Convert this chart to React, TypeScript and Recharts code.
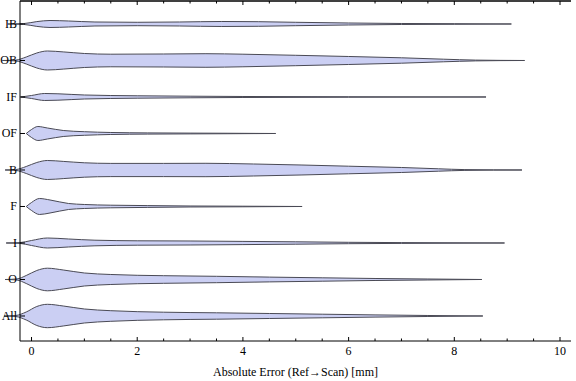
import { ComposedChart, Area, XAxis, YAxis, ReferenceLine } from 'recharts'

// categories, bottom to top (y position = index + 1)
const categories = ['All', 'O', 'I', 'F', 'B', 'OF', 'IF', 'OB', 'IB']

const xTicks = [0, 0.5, 1, 1.5, 2, 2.5, 3, 3.5, 4, 4.5, 5, 5.5, 6, 6.5, 7, 7.5, 8, 8.5, 9, 9.5, 10]
const yTicks = [1, 2, 3, 4, 5, 6, 7, 8, 9]

// estimated kernel densities (relative) along the error axis, per group
const ibX = [-0.45, -0.15, 0.1, 0.35, 0.7, 1.2, 2.0, 2.8, 3.6, 4.3, 5.0, 6.0, 7.0, 8.0, 9.08]
const ibD = [0, 0.4, 2.4, 3.5, 3.0, 2.0, 1.7, 2.0, 2.5, 2.3, 1.7, 1.0, 0.5, 0.3, 0]

const obX = [-0.55, -0.3, -0.1, 0.1, 0.3, 0.6, 1.0, 1.5, 2.5, 3.3, 4.0, 5.0, 6.0, 7.0, 7.8, 8.4, 9.33]
const obD = [0, 0.4, 3.5, 7.5, 9.5, 8.6, 7.0, 6.3, 6.5, 6.8, 6.3, 5.2, 4.0, 2.7, 1.3, 0.4, 0]

const ifX = [-0.2, 0.0, 0.25, 0.5, 1.0, 2.0, 3.0, 4.0, 6.0, 8.6]
const ifD = [0, 1.5, 3.5, 3.2, 2.0, 1.2, 0.8, 0.5, 0.25, 0]

const ofX = [-0.1, 0.0, 0.12, 0.3, 0.6, 1.0, 1.5, 2.2, 3.0, 3.7, 4.62]
const ofD = [0, 4.0, 7.0, 5.5, 3.0, 1.8, 1.0, 0.6, 0.4, 0.25, 0]

const bX = [-0.5, -0.3, -0.1, 0.1, 0.3, 0.6, 1.0, 1.5, 2.5, 3.3, 4.2, 5.1, 6.0, 7.0, 7.7, 8.2, 9.28]
const bD = [0, 0.4, 3.5, 7.5, 9.5, 8.6, 7.2, 6.6, 6.6, 6.7, 6.0, 5.0, 3.8, 2.5, 1.2, 0.4, 0]

const fX = [-0.1, 0.0, 0.15, 0.35, 0.7, 1.0, 1.5, 2.2, 3.0, 4.0, 5.12]
const fD = [0, 4.0, 8.0, 6.5, 3.0, 2.0, 1.3, 0.9, 0.5, 0.3, 0]

const iX = [-0.48, -0.22, 0.0, 0.3, 0.7, 1.2, 2.0, 3.0, 4.0, 5.0, 6.0, 7.0, 8.95]
const iD = [0, 0.4, 2.5, 5.0, 4.0, 2.8, 2.2, 2.0, 1.6, 1.2, 0.7, 0.4, 0]

const oX = [-0.5, -0.28, -0.1, 0.1, 0.3, 0.6, 1.0, 1.5, 2.5, 3.5, 4.5, 5.5, 6.5, 7.5, 8.52]
const oD = [0, 0.5, 4.0, 9.0, 11.3, 9.5, 6.5, 5.0, 3.8, 3.2, 2.4, 1.7, 1.0, 0.5, 0]

const allX = [-0.52, -0.3, -0.1, 0.1, 0.3, 0.6, 1.0, 1.5, 2.5, 3.5, 4.5, 5.5, 6.5, 7.5, 8.54]
const allD = [0, 0.5, 4.0, 9.5, 11.7, 10.0, 7.0, 5.3, 3.8, 3.2, 2.5, 1.8, 1.1, 0.5, 0]

const groups = [
  { name: 'All', xs: allX, dens: allD },
  { name: 'O', xs: oX, dens: oD },
  { name: 'I', xs: iX, dens: iD },
  { name: 'F', xs: fX, dens: fD },
  { name: 'B', xs: bX, dens: bD },
  { name: 'OF', xs: ofX, dens: ofD },
  { name: 'IF', xs: ifX, dens: ifD },
  { name: 'OB', xs: obX, dens: obD },
  { name: 'IB', xs: ibX, dens: ibD },
]

// half-width of a violin per density unit, in category units
const WIDTH = 1 / 36.5

const FONT = '"Liberation Serif", "Times New Roman", serif'
const X_DOMAIN = [-0.218, 10.208]
const Y_DOMAIN = [0.315, 9.63]

const violinData = groups.map((g) => {
  const pos = categories.indexOf(g.name) + 1
  return g.xs.map((x, i) => ({ x, band: [pos - g.dens[i] * WIDTH, pos + g.dens[i] * WIDTH] }))
})

const LeftTick = ({ x, y, payload }: any) => (
  <g>
    <line x1={x} x2={x + 5} y1={y} y2={y} stroke="#000" />
    <text x={x - 3} y={y} dy={4} textAnchor="end" fontSize={12} fontFamily={FONT} fill="#000">
      {categories[payload.value - 1]}
    </text>
  </g>
)

const RightTick = ({ x, y }: any) => <line x1={x} x2={x - 5} y1={y} y2={y} stroke="#000" />

const BottomTick = ({ x, y, payload }: any) => {
  const major = payload.value % 2 === 0
  return (
    <g>
      <line x1={x} x2={x} y1={y} y2={y - (major ? 4 : 2.5)} stroke="#000" />
      {major && (
        <text x={x} y={y + 14} textAnchor="middle" fontSize={12} fontFamily={FONT} fill="#000">
          {payload.value}
        </text>
      )}
    </g>
  )
}

// mirrored top axis: tick text position sits tickSize (4) below the frame edge
const TopTick = ({ x, y, payload }: any) => {
  const major = payload.value % 2 === 0
  const edge = y - 4
  return <line x1={x} x2={x} y1={edge} y2={edge + (major ? 4 : 2.5)} stroke="#000" />
}

export default function App() {
  return (
    <div style={{ position: 'absolute', left: 0, top: 0, background: '#fff' }}>
      <style>{'.recharts-area .recharts-layer{clip-path:none !important}'}</style>
      <ComposedChart width={576} height={381} margin={{ top: 1, right: 5, bottom: 0, left: 0 }}>
        <XAxis
          type="number"
          dataKey="x"
          domain={X_DOMAIN}
          allowDataOverflow
          ticks={xTicks}
          interval={0}
          tickSize={0}
          tickMargin={0}
          tickLine={false}
          tick={<BottomTick />}
          axisLine={{ stroke: '#000' }}
          height={40}
          label={{ value: 'Absolute Error (Ref→Scan) [mm]', position: 'insideBottom', offset: 5, fontSize: 12, fontFamily: FONT, fill: '#000' }}
        />
        <XAxis
          xAxisId="top"
          orientation="top"
          mirror
          type="number"
          dataKey="x"
          domain={X_DOMAIN}
          allowDataOverflow
          ticks={xTicks}
          interval={0}
          tickSize={4}
          tickMargin={0}
          tickLine={false}
          tick={<TopTick />}
          axisLine={{ stroke: '#000' }}
        />
        <YAxis
          type="number"
          domain={Y_DOMAIN}
          allowDataOverflow
          ticks={yTicks}
          interval={0}
          tickSize={0}
          tickMargin={0}
          tickLine={false}
          tick={<LeftTick />}
          axisLine={{ stroke: '#000' }}
          width={20}
        />
        <YAxis
          yAxisId="right"
          orientation="right"
          type="number"
          domain={Y_DOMAIN}
          allowDataOverflow
          ticks={yTicks}
          interval={0}
          tickSize={0}
          tickMargin={0}
          tickLine={false}
          tick={<RightTick />}
          axisLine={{ stroke: '#000' }}
          width={0}
        />
        <ReferenceLine y={Y_DOMAIN[1]} stroke="#000" ifOverflow="visible" />
        {groups.map((g, i) => {
          // the top group is drawn on the mirrored frame axes (same domains)
          const mirrored = g.name === 'IB'
          return (
            <Area
              key={g.name}
              data={violinData[i]}
              dataKey="band"
              xAxisId={mirrored ? 'top' : 0}
              yAxisId={mirrored ? 'right' : 0}
              type="monotone"
              stroke="#4a4a55"
              strokeWidth={1}
              fill="#cbcff3"
              fillOpacity={1}
              dot={false}
              activeDot={false}
              isAnimationActive={false}
            />
          )
        })}
      </ComposedChart>
    </div>
  )
}
